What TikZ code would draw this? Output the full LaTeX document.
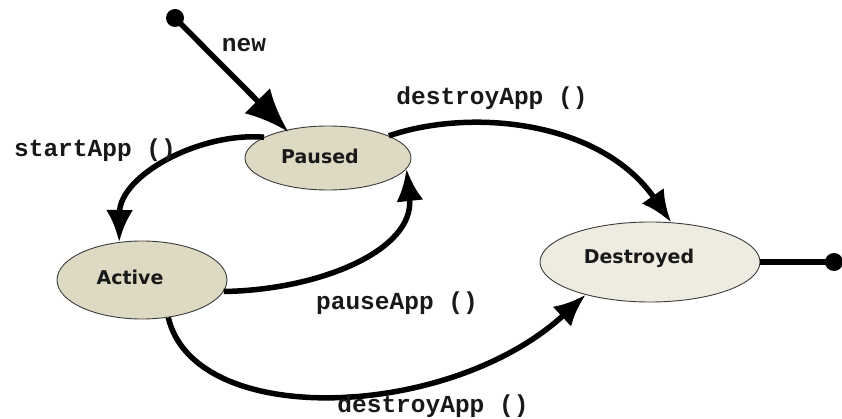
\documentclass[tikz,border=0pt]{standalone}
\usepackage{fontspec}
\usetikzlibrary{arrows.meta,shapes.geometric}
\newfontfamily\statefont{DejaVu Sans}
\newfontfamily\labfont{Liberation Mono}
\definecolor{stbeige}{RGB}{221,217,195}
\definecolor{stlight}{RGB}{238,236,225}
\definecolor{stedge}{RGB}{60,60,60}
\tikzset{
  state/.style={ellipse, draw=stedge, line width=0.9pt, inner sep=0pt},
  stname/.style={font=\statefont\bfseries\fontsize{19}{21}\selectfont, text=black!90},
  trans/.style={line width=5.5pt, -{Latex[length=32pt,width=27pt]}},
  lab/.style={font=\labfont\bfseries\fontsize{24.5}{26}\selectfont, text=black!90},
  dot/.style={circle, fill=black, inner sep=0pt, minimum size=18pt}
}
\begin{document}
\begin{tikzpicture}[x=1pt,y=-1pt]
\useasboundingbox (0,0) rectangle (842,419);
% states
\node[state, fill=stbeige, minimum width=166pt, minimum height=64pt] (Paused) at (328,158) {};
\node[state, fill=stbeige, minimum width=170pt, minimum height=78pt] (Active) at (142,280) {};
\node[state, fill=stlight, minimum width=220pt, minimum height=80pt] (Destroyed) at (650,262) {};
\node[stname] (tPaused) at (320,156) {Paused};
\node[stname] (tActive) at (130,277) {Active};
\node[stname] (tDestroyed) at (639,258) {Destroyed};
% initial and final
\node[dot] (init) at (175,18) {};
\node[dot] (final) at (834,262) {};
% transitions
\draw[line width=5.5pt, -{Latex[length=44pt,width=36pt]}, shorten >=-3pt] (init.center) -- (Paused.146);
\draw[trans] (Paused.162) .. controls (200,132) and (120,175) .. (Active.121);
\draw[trans] (Active.-8) .. controls (320,290) and (415,250) .. (Paused.-8);
\draw[trans] (Paused.20) .. controls (470,108) and (600,120) .. (Destroyed.62);
\draw[trans] (Active.-55) .. controls (195,430) and (450,420) .. (Destroyed.207);
\draw[line width=5.5pt] (Destroyed.east) -- (final.center);
% labels
\node[lab] (lnew) at (244,45) {new};
\node[lab] (ldestroy1) at (492,98) {destroyApp ()};
\node[lab] (lstart) at (95,150) {startApp ()};
\node[lab] (lpause) at (397,303) {pauseApp ()};
\node[lab] (ldestroy2) at (433,406) {destroyApp ()};
\end{tikzpicture}
\end{document}
